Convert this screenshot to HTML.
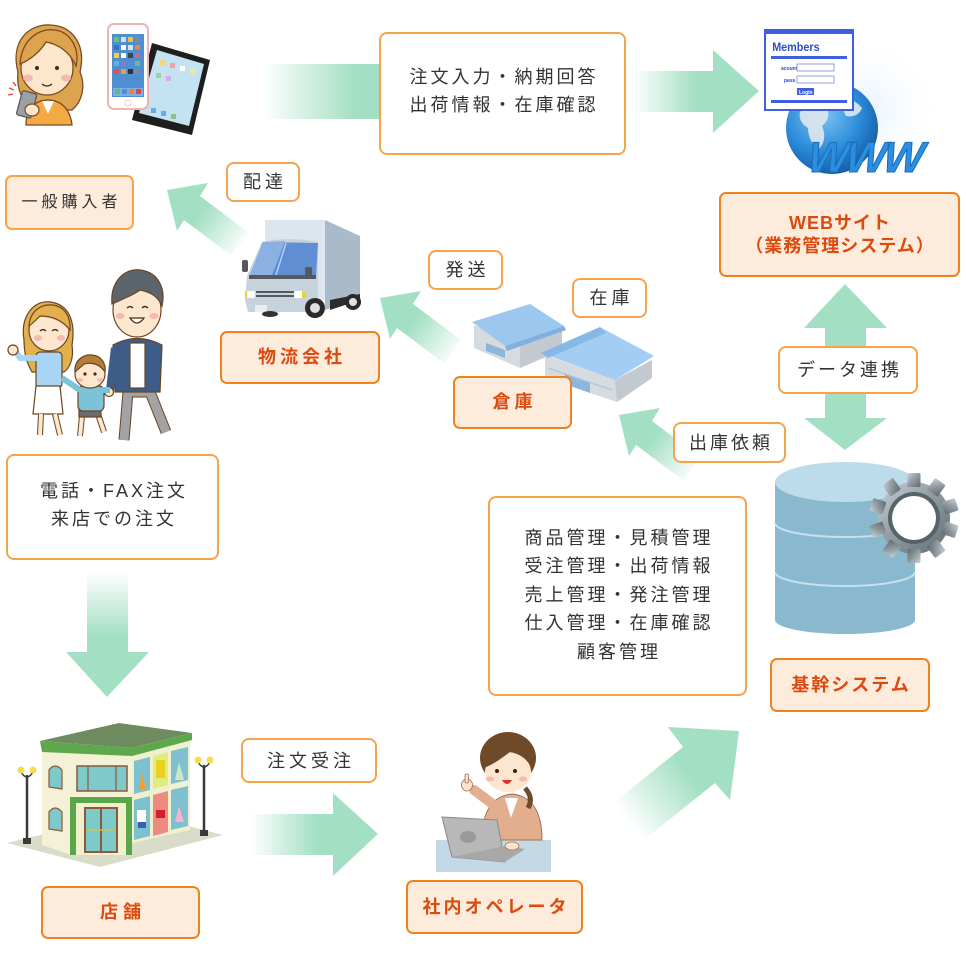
<!DOCTYPE html>
<html><head><meta charset="utf-8">
<style>
html,body{margin:0;padding:0;background:#fff;}
#c{position:relative;width:966px;height:968px;overflow:hidden;background:#fff;font-family:"Liberation Sans","Noto Sans CJK JP",sans-serif;}
svg{position:absolute;left:0;top:0;}
.b{position:absolute;box-sizing:border-box;border:2px solid #f8a24c;border-radius:8px;background:#fff;color:#333;display:flex;align-items:center;justify-content:center;text-align:center;font-size:18px;letter-spacing:4px;padding-left:4px;line-height:28px;white-space:nowrap;}
.l{position:absolute;box-sizing:border-box;border:2px solid #f0821e;border-radius:7px;background:#fdebdb;color:#dc4a0e;font-weight:bold;display:flex;align-items:center;justify-content:center;text-align:center;font-size:18px;letter-spacing:4px;padding-left:4px;line-height:23px;white-space:nowrap;}
</style></head>
<body>
<div id="c">
<svg width="966" height="968" viewBox="0 0 966 968" xmlns="http://www.w3.org/2000/svg">
<defs>
 <linearGradient id="gT1" gradientUnits="userSpaceOnUse" x1="262" y1="0" x2="379" y2="0"><stop offset="0" stop-color="#a3dfc3" stop-opacity="0"/><stop offset="0.8" stop-color="#a3dfc3"/></linearGradient>
 <linearGradient id="gT2" gradientUnits="userSpaceOnUse" x1="632" y1="0" x2="713" y2="0"><stop offset="0" stop-color="#a3dfc3" stop-opacity="0"/><stop offset="0.8" stop-color="#a3dfc3"/></linearGradient>
 <linearGradient id="gR" gradientUnits="userSpaceOnUse" x1="250" y1="0" x2="334" y2="0"><stop offset="0" stop-color="#a3dfc3" stop-opacity="0"/><stop offset="0.8" stop-color="#a3dfc3"/></linearGradient>
 <linearGradient id="gD" gradientUnits="userSpaceOnUse" x1="0" y1="572" x2="0" y2="652"><stop offset="0" stop-color="#a3dfc3" stop-opacity="0"/><stop offset="0.8" stop-color="#a3dfc3"/></linearGradient>
 <linearGradient id="gA1" gradientUnits="userSpaceOnUse" x1="244" y1="248" x2="200" y2="214"><stop offset="0" stop-color="#a3dfc3" stop-opacity="0"/><stop offset="1" stop-color="#a3dfc3"/></linearGradient>
 <linearGradient id="gA2" gradientUnits="userSpaceOnUse" x1="457" y1="356" x2="413" y2="322"><stop offset="0" stop-color="#a3dfc3" stop-opacity="0"/><stop offset="1" stop-color="#a3dfc3"/></linearGradient>
 <linearGradient id="gA3" gradientUnits="userSpaceOnUse" x1="696" y1="473" x2="652" y2="439"><stop offset="0" stop-color="#a3dfc3" stop-opacity="0"/><stop offset="1" stop-color="#a3dfc3"/></linearGradient>
 <linearGradient id="gA4" gradientUnits="userSpaceOnUse" x1="628" y1="823" x2="690" y2="775"><stop offset="0" stop-color="#a3dfc3" stop-opacity="0"/><stop offset="1" stop-color="#a3dfc3"/></linearGradient>
 <radialGradient id="globe" cx="0.4" cy="0.35" r="0.7"><stop offset="0" stop-color="#7cc6f4"/><stop offset="0.6" stop-color="#2a8ad8"/><stop offset="1" stop-color="#14589e"/></radialGradient>
 <linearGradient id="gear" x1="0" y1="0" x2="1" y2="1"><stop offset="0" stop-color="#c9d1d6"/><stop offset="0.5" stop-color="#8d989f"/><stop offset="1" stop-color="#5f6a71"/></linearGradient>
 <radialGradient id="haze" cx="0.5" cy="0.5" r="0.5"><stop offset="0" stop-color="#e6f3fb"/><stop offset="1" stop-color="#ffffff" stop-opacity="0"/></radialGradient>
</defs>

<!-- ========== ARROWS ========== -->
<rect x="262" y="64" width="118" height="55" fill="url(#gT1)"/>
<rect x="632" y="71" width="82" height="41" fill="url(#gT2)"/>
<polygon points="713,50 759,91 713,133" fill="#a3dfc3"/>

<polygon points="167,190 208,183 200,196 248,232 232,256 184,220 177,231" fill="url(#gA1)"/>
<polygon points="380,298 421,291 413,304 461,340 445,364 397,328 390,339" fill="url(#gA2)"/>
<polygon points="619,415 660,408 652,421 700,457 684,481 636,445 629,456" fill="url(#gA3)"/>

<polygon points="739,731 730,800 715,783 645,839 613,803 683,747 668,727" fill="url(#gA4)"/>

<rect x="250" y="814" width="84" height="41" fill="url(#gR)"/>
<polygon points="333,793 378,834 333,876" fill="#a3dfc3"/>

<rect x="87" y="572" width="41" height="81" fill="url(#gD)"/>
<polygon points="66,652 149,652 107,697" fill="#a3dfc3"/>

<polygon points="845,284 887,328 866,328 866,418 887,418 845,450 804,418 825,418 825,328 804,328" fill="#a3dfc3"/>

<!-- ========== TOP-LEFT WOMAN ========== -->
<g stroke="#7a4a20" stroke-width="1.3">
 <path d="M18,72 C10,42 28,24 50,25 C74,26 86,46 80,72 C86,86 82,102 72,110 L30,110 C22,100 16,88 18,72Z" fill="#dca44e"/>
 <path d="M26,125 C26,108 36,100 48,100 C60,100 70,108 72,125 Z" fill="#f3a944"/>
 <path d="M42,101 L48,114 L54,101 Z" fill="#fff" stroke="none"/>
 <ellipse cx="47" cy="68" rx="26" ry="27" fill="#fde7cc"/>
 <path d="M20,64 C22,38 40,28 55,30 C70,32 80,48 76,66 C70,52 58,44 46,42 C40,52 30,60 20,64Z" fill="#dca44e"/>
</g>
<circle cx="37" cy="68" r="2" fill="#4a2a10"/>
<circle cx="57" cy="68" r="2" fill="#4a2a10"/>
<ellipse cx="28" cy="78" rx="5" ry="3.5" fill="#f6b8b0"/>
<ellipse cx="66" cy="78" rx="5" ry="3.5" fill="#f6b8b0"/>
<path d="M42,84 Q47,88 52,84" stroke="#4a2a10" stroke-width="1.3" fill="none"/>
<g transform="rotate(15 27 105)">
 <rect x="19" y="92" width="15" height="25" rx="2" fill="#9aa0a6" stroke="#555" stroke-width="1.2"/>
</g>
<ellipse cx="32" cy="110" rx="7" ry="6" fill="#fde7cc" stroke="#7a4a20" stroke-width="1.2"/>
<path d="M8,95 L13,94 M9,88 L14,90 M13,82 L16,86" stroke="#e94a3a" stroke-width="1.4"/>

<!-- ========== TABLET & PHONE ========== -->
<polygon points="152,43 210,60 192,135 132,120" fill="#1e1e1e"/>
<polygon points="157,50 204,64 189,126 139,113" fill="#c4e2f2"/>
<rect x="160" y="60" width="5" height="5" fill="#f3d47a"/>
<rect x="170" y="63" width="5" height="5" fill="#f2a0a0"/>
<rect x="180" y="66" width="5" height="5" fill="#ffffff"/>
<rect x="190" y="69" width="5" height="5" fill="#f0e8a0"/>
<rect x="156" y="73" width="5" height="5" fill="#a0d0a0"/>
<rect x="166" y="76" width="5" height="5" fill="#d4b0e0"/>
<rect x="151" y="108" width="5" height="5" fill="#6aa8e0"/>
<rect x="161" y="111" width="5" height="5" fill="#5ab0f0"/>
<rect x="171" y="114" width="5" height="5" fill="#90c080"/>
<rect x="108" y="24" width="40" height="85" rx="6" fill="#fff" stroke="#eeb4b4" stroke-width="2"/>
<rect x="112" y="34" width="32" height="63" fill="#4d8fd0"/>
<g>
 <rect x="114" y="37" width="5" height="5" fill="#6cc070"/><rect x="121" y="37" width="5" height="5" fill="#ddd"/><rect x="128" y="37" width="5" height="5" fill="#f0c040"/><rect x="135" y="37" width="5" height="5" fill="#888"/>
 <rect x="114" y="45" width="5" height="5" fill="#3a70c0"/><rect x="121" y="45" width="5" height="5" fill="#fff"/><rect x="128" y="45" width="5" height="5" fill="#e0e0e0"/><rect x="135" y="45" width="5" height="5" fill="#f08040"/>
 <rect x="114" y="53" width="5" height="5" fill="#f0d040"/><rect x="121" y="53" width="5" height="5" fill="#fff"/><rect x="128" y="53" width="5" height="5" fill="#444"/><rect x="135" y="53" width="5" height="5" fill="#e06080"/>
 <rect x="114" y="61" width="5" height="5" fill="#60b0e0"/><rect x="121" y="61" width="5" height="5" fill="#a070c0"/><rect x="128" y="61" width="5" height="5" fill="#5090e0"/><rect x="135" y="61" width="5" height="5" fill="#70c070"/>
 <rect x="114" y="69" width="5" height="5" fill="#e05050"/><rect x="121" y="69" width="5" height="5" fill="#f0a030"/><rect x="128" y="69" width="5" height="5" fill="#333"/><rect x="135" y="69" width="5" height="5" fill="#888"/>
 <rect x="113" y="88" width="30" height="8" fill="#7fb0e0"/>
 <rect x="115" y="89" width="5" height="5" fill="#60c060"/><rect x="122" y="89" width="5" height="5" fill="#4a90e0"/><rect x="129" y="89" width="5" height="5" fill="#f08040"/><rect x="136" y="89" width="5" height="5" fill="#e04050"/>
</g>
<circle cx="128" cy="103" r="3" fill="#fff" stroke="#e8c8c8"/>

<!-- ========== TRUCK ========== -->
<polygon points="265,220 325,220 325,300 265,300" fill="#dde6ee"/>
<polygon points="325,220 360,236 360,297 325,310" fill="#a9bac8"/>
<polygon points="330,300 360,294 360,300 330,310" fill="#2c2c2c"/>
<path d="M247,276 L262,242 Q290,236 318,242 L318,300 L312,312 L248,312 L245,300 Z" fill="#c6d3dd"/>
<polygon points="250,275 263,242 318,243 316,276" fill="#5f8fd2"/>
<polygon points="250,275 263,242 285,241 272,275" fill="#8db0e2"/>
<path d="M276,275 L286,243" stroke="#b8d0f0" stroke-width="1.5"/>
<rect x="249" y="275" width="67" height="4" fill="#55595e"/>
<rect x="242" y="260" width="6" height="12" rx="2" fill="#55595e"/>
<rect x="305" y="267" width="7" height="12" rx="2" fill="#55595e"/>
<rect x="256" y="291" width="40" height="2" fill="#55595e"/>
<rect x="256" y="295" width="40" height="2" fill="#55595e"/>
<rect x="246" y="291" width="9" height="7" fill="#fff" stroke="#ddd" stroke-width="0.5"/>
<rect x="294" y="291" width="10" height="7" fill="#fff"/>
<rect x="302" y="291" width="4" height="7" fill="#f5d020"/>
<rect x="245" y="291" width="2" height="7" fill="#f5d020"/>
<rect x="255" y="305" width="12" height="7" fill="#e8edf2"/>
<circle cx="315" cy="308" r="10" fill="#2a2a2a"/><circle cx="315" cy="308" r="5" fill="#e0e0e0"/>
<circle cx="353" cy="302" r="8" fill="#2a2a2a"/><circle cx="353" cy="302" r="4" fill="#e0e0e0"/>
<ellipse cx="270" cy="314" rx="8" ry="3" fill="#333"/>

<!-- ========== WAREHOUSE ========== -->
<polygon points="474,325 520,343 562,328 562,350 520,368 474,348" fill="#d6dbe0"/>
<polygon points="520,343 562,328 562,350 520,368" fill="#c3c9d0"/>
<polygon points="472,322 530,304 564,326 505,346" fill="#9cc7ee"/>
<polygon points="505,346 564,326 566,330 507,351" fill="#7fb0e0"/>
<polygon points="486,343 505,350 505,358 486,351" fill="#8cb6de"/>
<polygon points="545,355 615,380 652,360 652,378 617,402 545,378" fill="#d6dbe0"/>
<polygon points="615,380 652,360 652,378 617,402" fill="#c3c9d0"/>
<polygon points="541,353 600,327 654,356 615,380" fill="#a3cdf2"/>
<polygon points="541,353 600,327 606,333 548,358" fill="#86b8e6"/>
<polygon points="565,374 590,383 590,393 565,384" fill="#8cb6de"/>
<path d="M548,368 L612,390" stroke="#a9c7e4" stroke-width="1.2"/>

<!-- ========== FAMILY ========== -->
<g stroke="#6b4520" stroke-width="1.2">
 <path d="M24,340 C20,316 34,300 50,302 C68,304 76,320 72,345 C74,358 70,368 64,372 L32,372 C26,362 24,350 24,340Z" fill="#e2b04e"/>
 <rect x="36" y="352" width="26" height="36" rx="4" fill="#a9d5f5"/>
 <path d="M36,386 L60,386 L63,414 L33,414 Z" fill="#fff"/>
 <path d="M41,414 L40,435 M55,414 L60,435" stroke="#6b4520" stroke-width="6"/>
 <path d="M41,414 L40,435 M55,414 L60,435" stroke="#fde7cf" stroke-width="4"/>
 <path d="M37,358 L20,358 L14,348" fill="none" stroke="#a9d5f5" stroke-width="6"/>
 <circle cx="13" cy="350" r="5" fill="#fde7cf"/>
 <ellipse cx="49" cy="330" rx="20" ry="21" fill="#fde7cf"/>
 <path d="M29,326 C30,310 42,304 52,305 C64,306 71,316 70,330 C62,320 52,316 40,316 C36,320 32,324 29,326Z" fill="#e2b04e"/>
 <path d="M124,440 L128,392 L150,392 L166,432" fill="none" stroke="#6b4520" stroke-width="11"/>
 <path d="M124,440 L128,392 L150,392 L166,432" fill="none" stroke="#a3a3a6" stroke-width="9"/>
 <path d="M113,345 Q137,332 162,345 L160,392 L115,392 Z" fill="#3d5c88"/>
 <rect x="130" y="343" width="15" height="45" fill="#fff"/>
 <path d="M115,348 L110,390" stroke="#3d5c88" stroke-width="8"/>
 <circle cx="109" cy="392" r="4.5" fill="#fde7cf"/>
 <ellipse cx="137" cy="310" rx="24" ry="27" fill="#fde7cf"/>
 <path d="M112,304 C110,280 126,268 140,270 C158,272 166,288 162,306 C158,296 150,292 140,290 C132,296 120,300 112,304Z" fill="#5c646c"/>
 <path d="M82,416 L80,436 M98,414 L104,432" stroke="#6b4520" stroke-width="6"/>
 <path d="M82,416 L80,436 M98,414 L104,432" stroke="#fde7cf" stroke-width="4"/>
 <rect x="79" y="408" width="22" height="9" fill="#6b6b6b"/>
 <rect x="78" y="386" width="26" height="25" rx="5" fill="#7cc2d8"/>
 <path d="M80,390 L62,378 M102,390 L110,390" stroke="#7cc2d8" stroke-width="6"/>
 <ellipse cx="90" cy="374" rx="15" ry="14" fill="#fde7cf"/>
 <path d="M75,372 C74,360 84,354 92,355 C102,356 106,364 105,372 C100,364 92,362 84,364 Z" fill="#b57d3c"/>
</g>
<g fill="#4a2a10">
 <path d="M40,331 Q43,328 46,331" stroke="#4a2a10" stroke-width="1.3" fill="none"/>
 <path d="M52,331 Q55,328 58,331" stroke="#4a2a10" stroke-width="1.3" fill="none"/>
 <path d="M127,308 Q130,305 133,308 M142,308 Q145,305 148,308" stroke="#4a2a10" stroke-width="1.3" fill="none"/>
 <path d="M130,318 Q137,328 144,318 Z" fill="#fff" stroke="#4a2a10" stroke-width="1.2"/>
 <circle cx="85" cy="374" r="1.6"/><circle cx="95" cy="374" r="1.6"/>
</g>
<ellipse cx="38" cy="338" rx="4" ry="3" fill="#f6b8b0"/><ellipse cx="61" cy="338" rx="4" ry="3" fill="#f6b8b0"/>
<ellipse cx="120" cy="316" rx="4.5" ry="3" fill="#f6b8b0"/><ellipse cx="154" cy="316" rx="4.5" ry="3" fill="#f6b8b0"/>
<ellipse cx="80" cy="380" rx="3" ry="2" fill="#f6b8b0"/><ellipse cx="100" cy="380" rx="3" ry="2" fill="#f6b8b0"/>

<!-- ========== WWW GLOBE ========== -->
<rect x="785" y="35" width="160" height="150" fill="url(#haze)"/>
<circle cx="832" cy="128" r="46" fill="url(#globe)"/>
<path d="M800,112 Q812,98 826,106 Q832,118 822,126 Q828,140 818,150 Q808,140 808,128 Q798,122 800,112Z" fill="#dfe8ee" opacity="0.9"/>
<path d="M838,100 Q852,96 862,108 Q858,118 846,116 Z" fill="#dfe8ee" opacity="0.9"/>
<text x="808" y="172" font-family="Liberation Sans, sans-serif" font-weight="bold" font-style="italic" font-size="43" fill="#2a8fe0" stroke="#1a6cb8" stroke-width="1" letter-spacing="-3" transform="skewX(-6) translate(17,0)">WWW</text>
<rect x="765" y="30" width="88" height="80" fill="#fff" stroke="#3d5fe0" stroke-width="2"/>
<rect x="766" y="31" width="86" height="3" fill="#3d5fe0"/>
<text x="772" y="51" font-family="Liberation Sans, sans-serif" font-weight="bold" font-size="12" fill="#2c4cd0" transform="scale(0.9 1) translate(86,0)">Members</text>
<rect x="771" y="56" width="76" height="3" fill="#3d5fe0"/>
<text x="781" y="70" font-family="Liberation Sans, sans-serif" font-weight="bold" font-size="5" fill="#2c4cd0">acount</text>
<rect x="797" y="64" width="37" height="7" fill="#fff" stroke="#7a8ad8" stroke-width="0.8"/>
<text x="784" y="82" font-family="Liberation Sans, sans-serif" font-weight="bold" font-size="5" fill="#2c4cd0">pass</text>
<rect x="797" y="76" width="37" height="7" fill="#fff" stroke="#7a8ad8" stroke-width="0.8"/>
<rect x="797" y="88" width="17" height="7" fill="#3d5fe0"/>
<text x="799" y="94" font-family="Liberation Sans, sans-serif" font-weight="bold" font-size="5" fill="#fff">Login</text>
<rect x="771" y="100" width="76" height="3" fill="#3d5fe0"/>

<!-- ========== DATABASE ========== -->
<path d="M775,482 L775,620 A70,14 0 0 0 915,620 L915,482 Z" fill="#8ab8cf"/>
<ellipse cx="845" cy="482" rx="70" ry="20" fill="#bcdcec"/>
<path d="M775,523 A70,14 0 0 0 915,523" stroke="#c6e0ee" stroke-width="2" fill="none"/>
<path d="M775,572 A70,14 0 0 0 915,572" stroke="#c6e0ee" stroke-width="2" fill="none"/>
<g transform="translate(914,518)" fill="url(#gear)">
 <circle r="36"/>
 <rect x="-6.5" y="-45" width="13" height="14" rx="1.5" transform="rotate(0)"/>
 <rect x="-6.5" y="-45" width="13" height="14" rx="1.5" transform="rotate(36)"/>
 <rect x="-6.5" y="-45" width="13" height="14" rx="1.5" transform="rotate(72)"/>
 <rect x="-6.5" y="-45" width="13" height="14" rx="1.5" transform="rotate(108)"/>
 <rect x="-6.5" y="-45" width="13" height="14" rx="1.5" transform="rotate(144)"/>
 <rect x="-6.5" y="-45" width="13" height="14" rx="1.5" transform="rotate(180)"/>
 <rect x="-6.5" y="-45" width="13" height="14" rx="1.5" transform="rotate(216)"/>
 <rect x="-6.5" y="-45" width="13" height="14" rx="1.5" transform="rotate(252)"/>
 <rect x="-6.5" y="-45" width="13" height="14" rx="1.5" transform="rotate(288)"/>
 <rect x="-6.5" y="-45" width="13" height="14" rx="1.5" transform="rotate(324)"/>
 <circle r="26" fill="#56636b"/>
 <circle r="22" fill="#fff"/>
</g>

<!-- ========== STORE ========== -->
<polygon points="7,843 100,867 223,835 135,812" fill="#d9dcc8"/>
<g>
 <line x1="27" y1="775" x2="27" y2="840" stroke="#3a3a3a" stroke-width="2.5"/>
 <path d="M21,772 Q27,782 33,772" stroke="#3a3a3a" stroke-width="1.5" fill="none"/>
 <circle cx="21" cy="770" r="3.5" fill="#f5dc50"/><circle cx="33" cy="770" r="3.5" fill="#f5dc50"/>
 <rect x="23" y="838" width="8" height="6" fill="#3a3a3a"/>
 <line x1="204" y1="765" x2="204" y2="832" stroke="#3a3a3a" stroke-width="2.5"/>
 <path d="M198,762 Q204,772 210,762" stroke="#3a3a3a" stroke-width="1.5" fill="none"/>
 <circle cx="198" cy="760" r="3.5" fill="#f5dc50"/><circle cx="210" cy="760" r="3.5" fill="#f5dc50"/>
 <rect x="200" y="830" width="8" height="6" fill="#3a3a3a"/>
</g>
<polygon points="42,748 132,752 132,855 72,855 42,845" fill="#f4f2d6"/>
<polygon points="132,752 190,737 190,830 132,843" fill="#f0efce"/>
<polygon points="40,741 119,723 192,733 132,748" fill="#6e8c60"/>
<polygon points="40,741 132,748 132,756 42,752" fill="#5da84c"/>
<polygon points="132,748 192,733 192,740 132,756" fill="#5da84c"/>
<rect x="77" y="766" width="50" height="25" fill="#7ec9c9" stroke="#8a5a3a" stroke-width="1.5"/>
<line x1="88" y1="766" x2="88" y2="791" stroke="#8a5a3a" stroke-width="1.2"/>
<line x1="116" y1="766" x2="116" y2="791" stroke="#8a5a3a" stroke-width="1.2"/>
<path d="M49,787 L49,770 Q55,762 62,770 L62,789 Z" fill="#7ec9c9" stroke="#8a5a3a" stroke-width="1.2"/>
<path d="M49,829 L49,812 Q55,804 62,812 L62,831 Z" fill="#7ec9c9" stroke="#8a5a3a" stroke-width="1.2"/>
<rect x="70" y="797" width="62" height="58" fill="#5aa64a"/>
<rect x="76" y="803" width="50" height="52" fill="#f2f0cc"/>
<rect x="85" y="808" width="32" height="44" fill="#7ec9c9" stroke="#8a5a3a" stroke-width="2"/>
<line x1="101" y1="808" x2="101" y2="852" stroke="#8a5a3a" stroke-width="2"/>
<line x1="86" y1="830" x2="116" y2="830" stroke="#e0c040" stroke-width="1.2"/>
<polygon points="134,761 150,757 150,790 134,794" fill="#7ec0d0"/>
<polygon points="153,756 168,752 168,785 153,789" fill="#e0ec80"/>
<polygon points="171,751 188,747 188,780 171,784" fill="#7ec0d0"/>
<polygon points="134,800 150,796 150,836 134,840" fill="#7ec0d0"/>
<polygon points="153,795 168,791 168,832 153,836" fill="#ef8a80"/>
<polygon points="171,790 188,786 188,826 171,830" fill="#7ec0d0"/>
<path d="M139,790 L142,772 L146,790 Z" fill="#f2a030"/>
<path d="M175,780 L179,762 L184,780 Z" fill="#cde8c8"/>
<rect x="137" y="810" width="9" height="12" fill="#fff"/>
<rect x="138" y="822" width="8" height="6" fill="#3a60b0"/>
<path d="M175,822 L179,806 L184,822 Z" fill="#f4b4d0"/>
<rect x="156" y="810" width="9" height="8" fill="#d02030"/>
<rect x="156" y="760" width="9" height="18" fill="#e8d020"/>

<!-- ========== OPERATOR ========== -->
<rect x="436" y="840" width="115" height="32" fill="#c3d9e6"/>
<path d="M482,840 C482,812 492,796 512,794 C532,796 542,812 542,840 Z" fill="#e3ae8d" stroke="#a26e4e" stroke-width="1"/>
<path d="M505,798 L511,818 L518,798 Z" fill="#fff"/>
<path d="M494,805 L474,790" stroke="#e3ae8d" stroke-width="10" stroke-linecap="round"/>
<ellipse cx="467" cy="785" rx="5.5" ry="6" fill="#fde2cc" stroke="#a26e4e" stroke-width="0.8"/>
<rect x="465" y="774" width="3.5" height="9" rx="1.5" fill="#fde2cc" stroke="#a26e4e" stroke-width="0.8"/>
<path d="M525,788 Q534,798 528,808" stroke="#6e4a28" stroke-width="5" fill="none"/>
<ellipse cx="508" cy="758" rx="28" ry="26" fill="#6e4a28"/>
<ellipse cx="508" cy="772" rx="23" ry="20" fill="#fde6cf"/>
<path d="M484,768 C486,748 498,742 510,742 C524,742 533,752 532,768 C526,758 520,754 510,752 C502,758 494,764 484,768Z" fill="#6e4a28"/>
<circle cx="497" cy="771" r="2" fill="#3a2010"/><circle cx="515" cy="771" r="2" fill="#3a2010"/>
<path d="M502,780 Q507,788 512,780 Z" fill="#e03030"/>
<ellipse cx="490" cy="779" rx="4" ry="2.5" fill="#f6b8b0"/><ellipse cx="523" cy="779" rx="4" ry="2.5" fill="#f6b8b0"/>
<polygon points="442,817 497,820 505,862 452,857" fill="#b8b8b8" stroke="#8a8a8a" stroke-width="1"/>
<ellipse cx="468" cy="837" rx="8" ry="6" fill="#9a9a9a"/>
<polygon points="452,857 505,862 525,849 505,846" fill="#a8a8a8"/>
<ellipse cx="512" cy="846" rx="7" ry="4" fill="#fde2cc" stroke="#a26e4e" stroke-width="0.8"/>
</svg>

<!-- ========== BOXES ========== -->
<div class="b" style="left:379px;top:32px;width:247px;height:123px;padding-bottom:6px;letter-spacing:3px;padding-left:3px;">注文入力・納期回答<br>出荷情報・在庫確認</div>
<div class="b" style="left:226px;top:162px;width:74px;height:40px;">配達</div>
<div class="b" style="left:428px;top:250px;width:75px;height:40px;">発送</div>
<div class="b" style="left:572px;top:278px;width:75px;height:40px;">在庫</div>
<div class="b" style="left:673px;top:422px;width:113px;height:41px;letter-spacing:3px;padding-left:3px;">出庫依頼</div>
<div class="b" style="left:778px;top:346px;width:140px;height:48px;letter-spacing:3px;padding-left:3px;">データ連携</div>
<div class="b" style="left:241px;top:738px;width:136px;height:45px;">注文受注</div>
<div class="b" style="left:6px;top:454px;width:213px;height:106px;letter-spacing:3px;padding-left:3px;padding-bottom:5px;">電話・FAX注文<br>来店での注文</div>
<div class="b" style="left:488px;top:496px;width:259px;height:200px;letter-spacing:3px;padding-left:3px;line-height:28.5px;padding-bottom:2px;">商品管理・見積管理<br>受注管理・出荷情報<br>売上管理・発注管理<br>仕入管理・在庫確認<br>顧客管理</div>

<div class="l" style="left:5px;top:175px;width:129px;height:55px;color:#333;font-weight:normal;font-size:16px;border-color:#f8a24c;">一般購入者</div>
<div class="l" style="left:220px;top:331px;width:160px;height:53px;">物流会社</div>
<div class="l" style="left:453px;top:376px;width:119px;height:53px;">倉庫</div>
<div class="l" style="left:719px;top:192px;width:241px;height:85px;letter-spacing:1px;padding-left:1px;">WEBサイト<br>（業務管理システム）</div>
<div class="l" style="left:770px;top:658px;width:160px;height:54px;letter-spacing:2px;padding-left:2px;">基幹システム</div>
<div class="l" style="left:406px;top:880px;width:177px;height:54px;letter-spacing:3px;padding-left:3px;">社内オペレータ</div>
<div class="l" style="left:41px;top:886px;width:159px;height:53px;letter-spacing:5px;padding-left:5px;">店舗</div>
</div>
</body></html>
